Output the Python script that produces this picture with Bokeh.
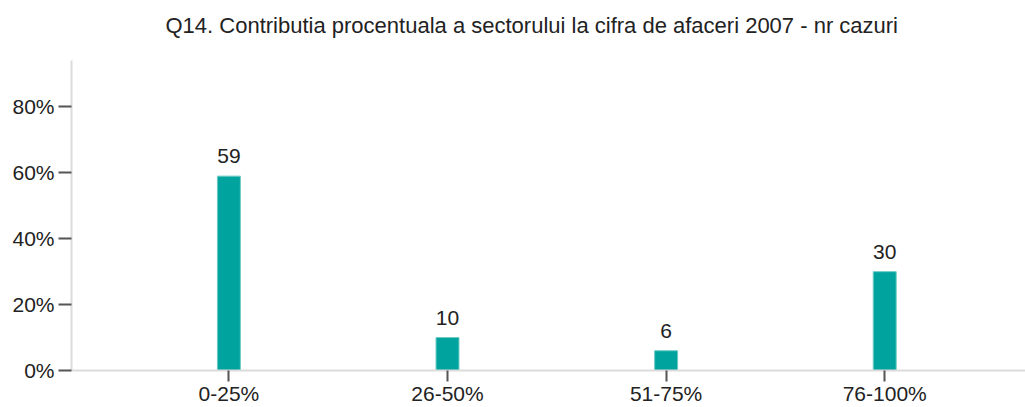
from bokeh.plotting import figure
from bokeh.models import FixedTicker, ColumnDataSource, Title
from bokeh.embed import file_html
from bokeh.resources import INLINE
from bokeh.core.properties import value

# ---- data ----
categories = ["0-25%", "26-50%", "51-75%", "76-100%"]
counts = [59, 10, 6, 30]
y_ticks = [0, 20, 40, 60, 80]
y_tick_labels = ["0%", "20%", "40%", "60%", "80%"]
title_text = "Q14. Contributia procentuala a sectorului la cifra de afaceri 2007 - nr cazuri"

xs = list(range(1, len(categories) + 1))
src = ColumnDataSource(dict(x=xs, top=counts, label=[str(c) for c in counts]))

FONT = "Liberation Sans"

p = figure(width=1025, height=407, x_range=(0.280, 4.644), y_range=(0, 94.1),
           output_backend="svg", toolbar_location=None,
           min_border_left=71, min_border_right=0, min_border_top=60, min_border_bottom=0)

# spacer between frame and title
p.add_layout(Title(text=" ", text_font=FONT, text_font_size="17px", standoff=0), "above")

p.title.text = title_text
p.title.text_font = FONT
p.title.text_font_size = "22px"
p.title.text_font_style = "normal"
p.title.text_color = "#222222"
p.title.align = "left"
p.title.offset = 94
p.title.vertical_align = "top"
p.title.standoff = 0

p.vbar(x="x", top="top", width=0.105, bottom=0, source=src,
       fill_color="#00a39d", line_color="#6ccbc6", line_width=1)
p.text(x="x", y="top", text="label", source=src, text_font=value(FONT),
       text_font_size="21px", text_align="center", text_baseline="alphabetic",
       y_offset=-20, text_color="#222222")

p.outline_line_color = None
p.xgrid.grid_line_color = None
p.ygrid.grid_line_color = None
p.background_fill_color = "white"
p.border_fill_color = "white"

# x axis
p.xaxis.ticker = FixedTicker(ticks=xs)
p.xaxis.major_label_overrides = {x: c for x, c in zip(xs, categories)}
p.xaxis.minor_tick_line_color = None
p.xaxis.major_tick_in = 0
p.xaxis.major_tick_out = 11
p.xaxis.major_tick_line_width = 2
p.xaxis.major_tick_line_color = "#555555"
p.xaxis.axis_line_color = "#dcdcdc"
p.xaxis.axis_line_width = 2
p.xaxis.major_label_standoff = 0
p.xaxis.major_label_text_font = FONT
p.xaxis.major_label_text_font_size = "21px"
p.xaxis.major_label_text_color = "#222222"

# y axis
p.yaxis.ticker = FixedTicker(ticks=y_ticks)
p.yaxis.major_label_overrides = {t: l for t, l in zip(y_ticks, y_tick_labels)}
p.yaxis.minor_tick_line_color = None
p.yaxis.major_tick_in = 0
p.yaxis.major_tick_out = 13
p.yaxis.major_tick_line_width = 2
p.yaxis.major_tick_line_color = "#555555"
p.yaxis.axis_line_color = "#dcdcdc"
p.yaxis.axis_line_width = 2
p.yaxis.major_label_standoff = 4
p.yaxis.major_label_text_font = FONT
p.yaxis.major_label_text_font_size = "21px"
p.yaxis.major_label_text_color = "#222222"

open("out.html", "w").write(file_html(p, INLINE))
